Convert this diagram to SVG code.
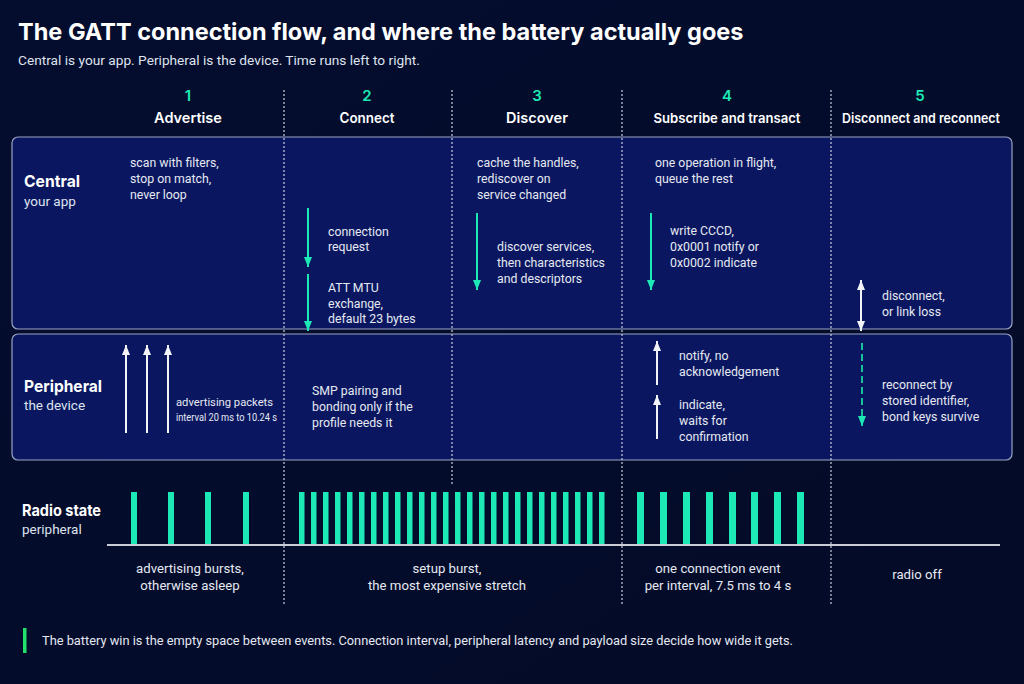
<svg xmlns="http://www.w3.org/2000/svg" width="1024" height="684" viewBox="0 0 1024 684">
<defs>
<linearGradient id="bg" x1="0" y1="0" x2="1" y2="1">
<stop offset="0" stop-color="#040d2e"/>
<stop offset="1" stop-color="#030b28"/>
</linearGradient>
<marker id="ag" viewBox="0 0 10 8" refX="10" refY="4" markerWidth="10" markerHeight="8" markerUnits="userSpaceOnUse" orient="auto-start-reverse">
<path d="M0,0 L10,4 L0,8 Z" fill="#1de9b6"/>
</marker>
<marker id="aw" viewBox="0 0 10 8" refX="10" refY="4" markerWidth="10" markerHeight="8" markerUnits="userSpaceOnUse" orient="auto-start-reverse">
<path d="M0,0 L10,4 L0,8 Z" fill="#f2f4f8"/>
</marker>
<style>
text{font-family:Roboto,"Liberation Sans",sans-serif;fill:#e6e9f2}
.title{font-family:Inter,"Liberation Sans",sans-serif;font-size:23.5px;font-weight:700;fill:#ffffff}
.sub{font-size:13.7px;fill:#dfe3ee}
.num{font-family:Inter,"Liberation Sans",sans-serif;font-size:15px;font-weight:600;fill:#1de9b6;text-anchor:middle}
.head{font-family:Inter,"Liberation Sans",sans-serif;font-size:14.5px;font-weight:600;fill:#ffffff;text-anchor:middle}
.lane{fill:#0a1760;stroke:#9aa3c4;stroke-width:1.2}
.lname{font-family:Inter,"Liberation Sans",sans-serif;font-size:16.5px;font-weight:700;fill:#ffffff}
.lsub{font-size:13.5px;fill:#dfe3ee}
.t{font-size:12.3px;fill:#e6e9f2}
.tc{font-size:13.2px;fill:#e6e9f2;text-anchor:middle}
.sep{stroke:#c9cede;stroke-width:1.2;stroke-dasharray:2 2;fill:none}
.g{stroke:#1de9b6;stroke-width:2;fill:none}
.w{stroke:#f2f4f8;stroke-width:2;fill:none}
.bar{fill:#1de9b6}
</style>
</defs>
<rect width="1024" height="684" fill="url(#bg)"/>

<g id="title">
<text class="title" x="18" y="40">The GATT connection flow, and where the battery actually goes</text>
<text class="sub" x="18" y="65">Central is your app. Peripheral is the device. Time runs left to right.</text>
</g>

<g id="lanes">
<rect id="central-lane" class="lane" x="12" y="137" width="1000" height="192" rx="6"/>
<rect id="peripheral-lane" class="lane" x="12" y="334" width="1000" height="126" rx="6"/>
</g>

<g id="separators">
<line class="sep" x1="284" y1="90" x2="284" y2="606"/>
<line class="sep" x1="452" y1="90" x2="452" y2="485"/>
<line class="sep" x1="622" y1="90" x2="622" y2="606"/>
<line class="sep" x1="831" y1="90" x2="831" y2="606"/>
</g>

<g id="headers">
<text class="num" x="188" y="101">1</text>
<text class="head" x="188" y="123">Advertise</text>
<text class="num" x="367" y="101">2</text>
<text class="head" x="367" y="123" textLength="55" lengthAdjust="spacingAndGlyphs">Connect</text>
<text class="num" x="537" y="101">3</text>
<text class="head" x="537" y="123">Discover</text>
<text class="num" x="727" y="101">4</text>
<text class="head" x="727" y="123" style="font-size:13.5px" textLength="147" lengthAdjust="spacingAndGlyphs">Subscribe and transact</text>
<text class="num" x="920" y="101">5</text>
<text class="head" x="921" y="123" style="font-size:13.5px" textLength="158" lengthAdjust="spacingAndGlyphs">Disconnect and reconnect</text>
</g>

<g id="central">
<text class="lname" x="24" y="187" textLength="56" lengthAdjust="spacingAndGlyphs">Central</text>
<text class="lsub" x="24" y="206">your app</text>
</g>

<g id="peripheral">
<text class="lname" x="24" y="392" textLength="78" lengthAdjust="spacingAndGlyphs">Peripheral</text>
<text class="lsub" x="24" y="410">the device</text>
</g>

<g id="radio">
<text class="lname" x="22" y="516" style="font-size:15.5px" textLength="79" lengthAdjust="spacingAndGlyphs">Radio state</text>
<text class="lsub" x="22" y="534">peripheral</text>
</g>

<g id="n-scan">
<text class="t" x="130" y="167">scan with filters,</text>
<text class="t" x="130" y="183">stop on match,</text>
<text class="t" x="130" y="199">never loop</text>
</g>
<g id="n-connreq">
<text class="t" x="328" y="236">connection</text>
<text class="t" x="328" y="251">request</text>
</g>
<g id="n-mtu">
<text class="t" x="328" y="292">ATT MTU</text>
<text class="t" x="328" y="308">exchange,</text>
<text class="t" x="328" y="323">default 23 bytes</text>
</g>
<g id="n-cache">
<text class="t" x="477" y="167">cache the handles,</text>
<text class="t" x="477" y="183">rediscover on</text>
<text class="t" x="477" y="199">service changed</text>
</g>
<g id="n-discover">
<text class="t" x="497" y="251">discover services,</text>
<text class="t" x="497" y="267">then characteristics</text>
<text class="t" x="497" y="283">and descriptors</text>
</g>
<g id="n-oneop">
<text class="t" x="655" y="167">one operation in flight,</text>
<text class="t" x="655" y="183">queue the rest</text>
</g>
<g id="n-cccd">
<text class="t" x="670" y="235">write CCCD,</text>
<text class="t" x="670" y="251">0x0001 notify or</text>
<text class="t" x="670" y="267">0x0002 indicate</text>
</g>
<g id="n-disc">
<text class="t" x="882" y="300">disconnect,</text>
<text class="t" x="882" y="316">or link loss</text>
</g>
<g id="n-adv">
<text class="t" x="176" y="406" style="font-size:11.5px" textLength="97" lengthAdjust="spacingAndGlyphs">advertising packets</text>
<text class="t" x="176" y="421" style="font-size:11.5px" textLength="101" lengthAdjust="spacingAndGlyphs">interval 20 ms to 10.24 s</text>
</g>
<g id="n-smp">
<text class="t" x="312" y="395">SMP pairing and</text>
<text class="t" x="312" y="411">bonding only if the</text>
<text class="t" x="312" y="427">profile needs it</text>
</g>
<g id="n-notify">
<text class="t" x="679" y="360">notify, no</text>
<text class="t" x="679" y="376">acknowledgement</text>
</g>
<g id="n-indicate">
<text class="t" x="679" y="409">indicate,</text>
<text class="t" x="679" y="425">waits for</text>
<text class="t" x="679" y="441">confirmation</text>
</g>
<g id="n-reconnect">
<text class="t" x="882" y="389">reconnect by</text>
<text class="t" x="882" y="405">stored identifier,</text>
<text class="t" x="882" y="421">bond keys survive</text>
</g>

<g id="connectors">
<line class="g" x1="308" y1="208" x2="308" y2="267" marker-end="url(#ag)"/>
<line class="g" x1="308" y1="274" x2="308" y2="331" marker-end="url(#ag)"/>
<line class="g" x1="477" y1="213" x2="477" y2="290" marker-end="url(#ag)"/>
<line class="g" x1="651" y1="213" x2="651" y2="290" marker-end="url(#ag)"/>
<line class="w" x1="861" y1="280" x2="861" y2="331" marker-start="url(#aw)" marker-end="url(#aw)"/>
<line class="w" x1="126" y1="433" x2="126" y2="345" marker-end="url(#aw)"/>
<line class="w" x1="147" y1="433" x2="147" y2="345" marker-end="url(#aw)"/>
<line class="w" x1="168" y1="433" x2="168" y2="345" marker-end="url(#aw)"/>
<line class="w" x1="657" y1="385" x2="657" y2="341" marker-end="url(#aw)"/>
<line class="w" x1="657" y1="439" x2="657" y2="395" marker-end="url(#aw)"/>
<line x1="862" y1="343" x2="862" y2="426" stroke="#17c29c" stroke-width="2" stroke-dasharray="7 4" marker-end="url(#ag)"/>
</g>

<g id="radio-bars">
<rect class="bar" x="131" y="492" width="6" height="53"/>
<rect class="bar" x="168" y="492" width="6" height="53"/>
<rect class="bar" x="205" y="492" width="6" height="53"/>
<rect class="bar" x="243" y="492" width="6" height="53"/>
<rect class="bar" x="299" y="492" width="5.5" height="53"/>
<rect class="bar" x="311" y="492" width="5.5" height="53"/>
<rect class="bar" x="323" y="492" width="5.5" height="53"/>
<rect class="bar" x="335" y="492" width="5.5" height="53"/>
<rect class="bar" x="347" y="492" width="5.5" height="53"/>
<rect class="bar" x="359" y="492" width="5.5" height="53"/>
<rect class="bar" x="371" y="492" width="5.5" height="53"/>
<rect class="bar" x="383" y="492" width="5.5" height="53"/>
<rect class="bar" x="395" y="492" width="5.5" height="53"/>
<rect class="bar" x="407" y="492" width="5.5" height="53"/>
<rect class="bar" x="419" y="492" width="5.5" height="53"/>
<rect class="bar" x="431" y="492" width="5.5" height="53"/>
<rect class="bar" x="443" y="492" width="5.5" height="53"/>
<rect class="bar" x="455" y="492" width="5.5" height="53"/>
<rect class="bar" x="467" y="492" width="5.5" height="53"/>
<rect class="bar" x="479" y="492" width="5.5" height="53"/>
<rect class="bar" x="491" y="492" width="5.5" height="53"/>
<rect class="bar" x="503" y="492" width="5.5" height="53"/>
<rect class="bar" x="515" y="492" width="5.5" height="53"/>
<rect class="bar" x="527" y="492" width="5.5" height="53"/>
<rect class="bar" x="539" y="492" width="5.5" height="53"/>
<rect class="bar" x="551" y="492" width="5.5" height="53"/>
<rect class="bar" x="563" y="492" width="5.5" height="53"/>
<rect class="bar" x="575" y="492" width="5.5" height="53"/>
<rect class="bar" x="587" y="492" width="5.5" height="53"/>
<rect class="bar" x="599" y="492" width="5.5" height="53"/>
<rect class="bar" x="637" y="492" width="7" height="53"/>
<rect class="bar" x="660" y="492" width="7" height="53"/>
<rect class="bar" x="683" y="492" width="7" height="53"/>
<rect class="bar" x="706" y="492" width="7" height="53"/>
<rect class="bar" x="729" y="492" width="7" height="53"/>
<rect class="bar" x="751" y="492" width="7" height="53"/>
<rect class="bar" x="774" y="492" width="7" height="53"/>
<rect class="bar" x="797" y="492" width="7" height="53"/>
<line x1="107" y1="545" x2="1000" y2="545" stroke="#c9cdd8" stroke-width="2"/>
</g>

<g id="radio-labels">
<text class="tc" x="190" y="573">advertising bursts,</text>
<text class="tc" x="190" y="590">otherwise asleep</text>
<text class="tc" x="447" y="573">setup burst,</text>
<text class="tc" x="447" y="590">the most expensive stretch</text>
<text class="tc" x="718" y="573">one connection event</text>
<text class="tc" x="718" y="590">per interval, 7.5 ms to 4 s</text>
<text class="tc" x="917" y="579">radio off</text>
</g>

<g id="note">
<rect x="23" y="628" width="3.5" height="25" fill="#22e06a"/>
<text class="t" x="42" y="645" style="font-size:12.5px" textLength="751" lengthAdjust="spacingAndGlyphs">The battery win is the empty space between events. Connection interval, peripheral latency and payload size decide how wide it gets.</text>
</g>
</svg>
